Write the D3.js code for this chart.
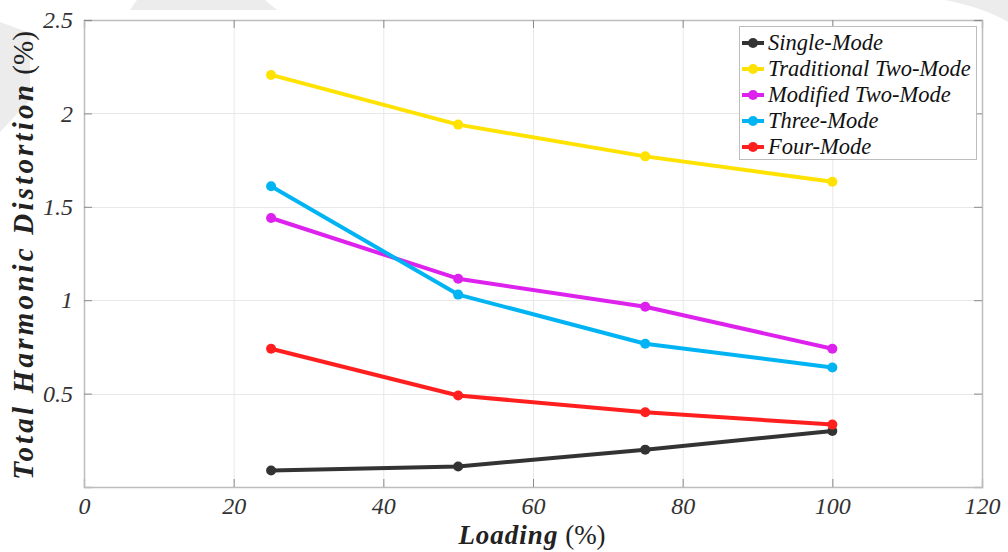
<!DOCTYPE html>
<html>
<head>
<meta charset="utf-8">
<script src="https://cdn.jsdelivr.net/npm/d3@7/dist/d3.min.js"></script>
<style>
  html, body { margin: 0; padding: 0; background: #fff; }
  svg { display: block; }
</style>
</head>
<body>
<svg id="chart" width="1008" height="552"></svg>
<script>
// Loading levels (%) at which THD was measured
const loading = [25, 50, 75, 100];

// THD (%) for each modulation scheme
const singleMode      = [0.088, 0.11, 0.20, 0.30];
const traditionalTwo  = [2.206, 1.94, 1.77, 1.634];
const modifiedTwo     = [1.44, 1.115, 0.965, 0.74];
const threeMode       = [1.61, 1.03, 0.767, 0.64];
const fourMode        = [0.74, 0.49, 0.40, 0.334];

const seriesNames  = ["Single-Mode", "Traditional Two-Mode", "Modified Two-Mode", "Three-Mode", "Four-Mode"];
const seriesValues = [singleMode, traditionalTwo, modifiedTwo, threeMode, fourMode];
const seriesColors = ["#333333", "#ffe200", "#dd22ee", "#00b4f4", "#ff1f1f"];

const xTicks = [0, 20, 40, 60, 80, 100, 120];
const yTicks = [0.5, 1, 1.5, 2, 2.5];

const SERIF = "font-family:'Liberation Serif','Times New Roman',serif;";

const svg = d3.select("#chart");
const pL = 84, pR = 982, pT = 20, pB = 487;

// faint background shapes
const bg = svg.append("g").attr("fill", "#ececec");
bg.append("path").attr("d", "M137,0 L265,0 L277,10 L130,10 Z");
bg.append("path").attr("d", "M0,22 L30,33 L30,100 L0,132 Z");
bg.append("path").attr("d", "M945,0 L1008,0 L1008,22 Q985,8 945,0 Z");

const x = d3.scaleLinear().domain([0, 120]).range([pL, pR]);
const y = d3.scaleLinear().domain([0, 2.5]).range([pB, pT]);

// grid
const grid = svg.append("g").attr("stroke", "#e8e8e8").attr("stroke-width", 1);
grid.selectAll(".gx").data(xTicks.slice(1, -1)).join("line")
  .attr("x1", d => x(d) + 0.5).attr("x2", d => x(d) + 0.5)
  .attr("y1", pT).attr("y2", pB);
grid.selectAll(".gy").data(yTicks.slice(0, -1)).join("line")
  .attr("x1", pL).attr("x2", pR)
  .attr("y1", d => Math.round(y(d)) + 0.5).attr("y2", d => Math.round(y(d)) + 0.5);

// axes with inward ticks
const tickLen = 8;
const axBottom = svg.append("g").attr("transform", `translate(0,${pB})`)
  .call(d3.axisBottom(x).tickValues(xTicks).tickSize(-tickLen).tickPadding(10).tickFormat(d3.format("d")));
const axTop = svg.append("g").attr("transform", `translate(0,${pT})`)
  .call(d3.axisTop(x).tickValues(xTicks).tickSize(-tickLen).tickFormat(""));
const axLeft = svg.append("g").attr("transform", `translate(${pL},0)`)
  .call(d3.axisLeft(y).tickValues(yTicks).tickSize(-tickLen).tickPadding(11).tickFormat(d3.format("")));
const axRight = svg.append("g").attr("transform", `translate(${pR},0)`)
  .call(d3.axisRight(y).tickValues(yTicks).tickSize(-tickLen).tickFormat(""));

[axBottom, axTop, axLeft, axRight].forEach(a => {
  a.select(".domain").attr("stroke", "#bdbdbd").attr("stroke-width", 1.5);
  a.selectAll(".tick line").attr("stroke", "#8a8a8a");
  a.selectAll(".tick text")
    .attr("style", SERIF + "font-style:italic;font-size:24px;")
    .attr("fill", "#333");
});

// series lines and markers
const line = d3.line().x((d, i) => x(loading[i])).y(d => y(d));
const plot = svg.append("g");
seriesValues.forEach((vals, k) => {
  const g = plot.append("g");
  g.append("path").datum(vals)
    .attr("d", line)
    .attr("fill", "none")
    .attr("stroke", seriesColors[k])
    .attr("stroke-width", 4)
    .attr("stroke-linejoin", "round");
  g.selectAll("circle").data(vals).join("circle")
    .attr("cx", (d, i) => x(loading[i]))
    .attr("cy", d => y(d))
    .attr("r", 5)
    .attr("fill", seriesColors[k]);
});

// legend
const lg = svg.append("g");
lg.append("rect").attr("x", 739.5).attr("y", 26.5).attr("width", 237).attr("height", 133)
  .attr("fill", "#fff").attr("stroke", "#bdbdbd").attr("stroke-width", 1);
seriesNames.forEach((name, k) => {
  const yy = 43 + k * 26;
  lg.append("line").attr("x1", 742).attr("x2", 764).attr("y1", yy).attr("y2", yy)
    .attr("stroke", seriesColors[k]).attr("stroke-width", 4);
  lg.append("circle").attr("cx", 753).attr("cy", yy).attr("r", 5).attr("fill", seriesColors[k]);
  lg.append("text").attr("x", 768).attr("y", yy + 7)
    .attr("style", SERIF + "font-style:italic;font-size:22.5px;")
    .attr("fill", "#111")
    .text(name);
});

// axis titles
const xt = svg.append("text").attr("x", 532).attr("y", 544)
  .attr("text-anchor", "middle")
  .attr("style", SERIF + "font-size:27px;")
  .attr("fill", "#222");
xt.append("tspan").attr("style", "font-weight:bold;font-style:italic;letter-spacing:1px;").text("Loading");
xt.append("tspan").text(" (%)");

const yt = svg.append("text")
  .attr("transform", `translate(33,${(pT + pB) / 2 + 2}) rotate(-90)`)
  .attr("text-anchor", "middle")
  .attr("style", SERIF + "font-size:29px;")
  .attr("fill", "#222");
yt.append("tspan").attr("style", "font-weight:bold;font-style:italic;letter-spacing:3.2px;")
  .text("Total Harmonic Distortion");
yt.append("tspan").text(" (%)");
</script>
</body>
</html>
